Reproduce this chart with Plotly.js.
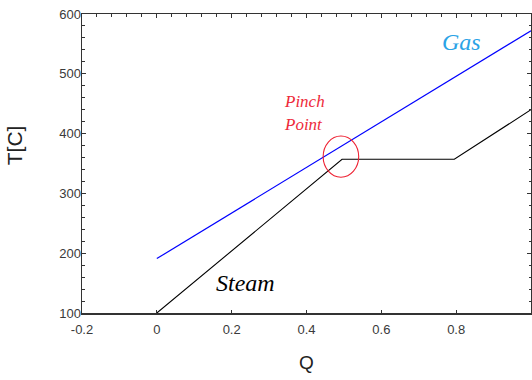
<!DOCTYPE html>
<html>
<head>
<meta charset="utf-8">
<script src="https://cdn.plot.ly/plotly-3.0.1.min.js"></script>
<style>html,body{margin:0;padding:0;background:#fff;}#chart{width:532px;height:380px;}</style>
</head>
<body>
<div id="chart"></div>
<script>
// Data
var gasQ = [0, 0.5, 0.8, 1.0];
var gasT = [191, 381, 496, 572];
var steamQ = [0, 0.495, 0.795, 1.0];
var steamT = [100, 357, 357, 440];
var xTickVals = [-0.2, 0, 0.2, 0.4, 0.6, 0.8];
var xTickText = ["-0.2", "0", "0.2", "0.4", "0.6", "0.8"];
var yTickVals = [100, 200, 300, 400, 500, 600];
var pinchCircle = {x0: 0.4445, x1: 0.5395, y0: 327, y1: 396};

var traces = [
  {x: gasQ, y: gasT, type: 'scatter', mode: 'lines', line: {color: '#0000ff', width: 1.2}, hoverinfo: 'skip'},
  {x: steamQ, y: steamT, type: 'scatter', mode: 'lines', line: {color: '#000000', width: 1.1}, hoverinfo: 'skip'},
  {x: [null], y: [null], xaxis: 'x2', yaxis: 'y2', type: 'scatter', mode: 'lines', hoverinfo: 'skip'}
];

var tickFont = {family: 'Arial, Liberation Sans, sans-serif', size: 13, color: '#3a3a3a'};

var layout = {
  width: 532, height: 380,
  margin: {l: 82, r: 1, t: 14, b: 67},
  paper_bgcolor: '#ffffff', plot_bgcolor: '#ffffff',
  showlegend: false,
  xaxis: {
    range: [-0.2, 1.0], showgrid: false, zeroline: false,
    showline: true, linecolor: '#333333', linewidth: 1.5,
    ticks: 'inside', ticklen: 3, tickcolor: '#333333',
    tickvals: xTickVals, ticktext: xTickText, tickfont: tickFont, ticklabelstandoff: 4,
    title: {text: 'Q', font: {family: 'Arial, Liberation Sans, sans-serif', size: 19, color: '#222222'}, standoff: 19}
  },
  xaxis2: {
    overlaying: 'x', side: 'top', range: [-0.2, 1.0], showgrid: false, zeroline: false,
    showline: true, linecolor: '#333333', linewidth: 1.5,
    ticks: 'inside', ticklen: 4, tickcolor: '#333333', tickvals: xTickVals, showticklabels: false,
    minor: {dtick: 0.04, ticks: 'inside', ticklen: 2.5, tickcolor: '#333333', showgrid: false}
  },
  yaxis: {
    range: [100, 600], showgrid: false, zeroline: false,
    showline: true, linecolor: '#333333', linewidth: 1.5,
    ticks: 'inside', ticklen: 4, tickcolor: '#333333',
    tickvals: yTickVals, tickfont: tickFont, ticklabelstandoff: -3,
    minor: {dtick: 20, ticks: 'inside', ticklen: 2.5, tickcolor: '#333333', showgrid: false}
  },
  yaxis2: {
    overlaying: 'y', side: 'right', range: [100, 600], showgrid: false, zeroline: false,
    showline: true, linecolor: '#333333', linewidth: 1.5,
    ticks: 'inside', ticklen: 4, tickcolor: '#333333', tickvals: yTickVals, showticklabels: false,
    minor: {dtick: 20, ticks: 'inside', ticklen: 2.5, tickcolor: '#333333', showgrid: false}
  },
  shapes: [
    {type: 'circle', xref: 'x', yref: 'y', x0: pinchCircle.x0, x1: pinchCircle.x1, y0: pinchCircle.y0, y1: pinchCircle.y1,
     line: {color: '#ee2233', width: 1.1}}
  ],
  annotations: [
    {xref: 'paper', yref: 'paper', x: -0.18, y: 0.56, text: 'T[C]', textangle: -90, showarrow: false,
     font: {family: 'Arial, Liberation Sans, sans-serif', size: 21, color: '#222222'}},
    {xref: 'x', yref: 'y', x: 0.813, y: 553, text: '<i>Gas</i>', showarrow: false,
     font: {family: 'Liberation Serif, Times New Roman, serif', size: 24, color: '#2aa3e6'}},
    {xref: 'x', yref: 'y', x: 0.238, y: 150, text: '<i>Steam</i>', showarrow: false,
     font: {family: 'Liberation Serif, Times New Roman, serif', size: 24, color: '#000000'}},
    {xref: 'x', yref: 'y', x: 0.395, y: 453, text: '<i>Pinch</i>', showarrow: false,
     font: {family: 'Liberation Serif, Times New Roman, serif', size: 17, color: '#ee2a3a'}},
    {xref: 'x', yref: 'y', x: 0.392, y: 415, text: '<i>Point</i>', showarrow: false,
     font: {family: 'Liberation Serif, Times New Roman, serif', size: 17, color: '#ee2a3a'}}
  ]
};

Plotly.newPlot('chart', traces, layout, {displayModeBar: false, staticPlot: true});
</script>
</body>
</html>
